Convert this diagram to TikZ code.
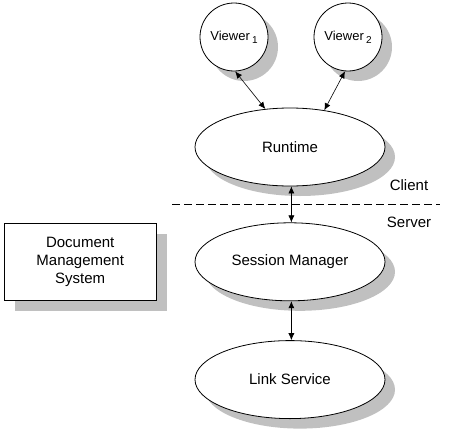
\documentclass[tikz,border=0pt]{standalone}
\usepackage{fontspec}
\setmainfont{Liberation Sans}
\usetikzlibrary{arrows.meta,positioning,shapes.geometric,shadows}
\definecolor{shadegray}{RGB}{192,192,192}
\newcommand{\vsub}[1]{\,\raisebox{-3pt}{\fontsize{10}{10}\selectfont #1}}
\tikzset{
    docshadow/.style={drop shadow={shadow xshift=10pt, shadow yshift=-10pt, fill=shadegray, opacity=1}},
    docellipse/.style={ellipse, draw, fill=white, line width=0.8pt, docshadow, minimum width=190pt, minimum height=78pt, inner sep=0pt, font=\fontsize{15}{18}\selectfont},
    docviewer/.style={circle, draw, fill=white, line width=0.8pt, docshadow, minimum size=68pt, inner sep=0pt, font=\fontsize{13}{16}\selectfont},
    docbox/.style={draw, fill=white, line width=0.8pt, drop shadow={shadow xshift=11pt, shadow yshift=-11pt, fill=shadegray, opacity=1}, align=center, minimum width=152pt, minimum height=77pt, inner sep=0pt, font=\fontsize{15}{18}\selectfont},
    docarrow/.style={{Latex[length=7pt,width=6pt]}-{Latex[length=7pt,width=6pt]}, line width=0.6pt},
    doclabel/.style={font=\fontsize{15}{18}\selectfont, inner sep=0pt}
}
\begin{document}
\begin{tikzpicture}[x=1pt, y=-1pt]
    \useasboundingbox (0,0) rectangle (452,431);

    \node[docellipse] (runtime) at (290,147) {Runtime};
    \node[docellipse, below=36pt of runtime] (session) {Session Manager};
    \node[docellipse, below=39pt of session] (link) {Link Service};
    \node[docviewer] (viewerA) at (234,37) {Viewer\vsub{1}};
    \node[docviewer] (viewerB) at (348,37) {Viewer\vsub{2}};
    \node[docbox, left=38pt of session] (dms) {Document\\Management\\System};

    \node[doclabel] (client) at (409,185) {Client};
    \node[doclabel] (server) at (409,222) {Server};
    \draw[dashed, dash pattern=on 8pt off 4pt, line width=0.6pt] (172,204) -- (440,204);

    \draw[docarrow] (viewerA.-88) -- (runtime.123);
    \draw[docarrow] (viewerB.-95) -- (runtime.47);
    \draw[docarrow] (runtime.-88) -- (session.88);
    \draw[docarrow] (session.-88) -- (link.88);
\end{tikzpicture}
\end{document}
